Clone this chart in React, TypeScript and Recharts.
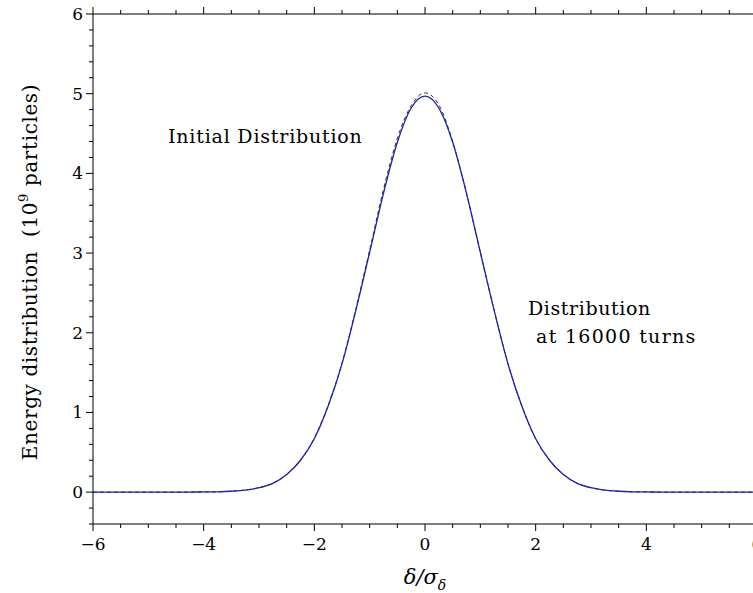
import React from 'react';
import { LineChart, Line, XAxis, YAxis } from 'recharts';

// delta / sigma_delta sample points
const deltas = [
  -6, -5.75, -5.5, -5.25, -5, -4.75, -4.5, -4.25, -4, -3.75, -3.5, -3.25, -3, -2.75, -2.5, -2.25,
  -2, -1.75, -1.5, -1.25, -1, -0.75, -0.5, -0.25, 0, 0.25, 0.5, 0.75, 1, 1.25, 1.5, 1.75,
  2, 2.25, 2.5, 2.75, 3, 3.25, 3.5, 3.75, 4, 4.25, 4.5, 4.75, 5, 5.25, 5.5, 5.75, 6,
];

// initial distribution (solid blue), 10^9 particles
const initialDist = [
  0, 0, 0, 0, 0, 0, 0, 0.001, 0.002, 0.004, 0.011, 0.025, 0.055, 0.11, 0.22, 0.4,
  0.67, 1.08, 1.61, 2.28, 3.01, 3.75, 4.39, 4.82, 4.97, 4.82, 4.39, 3.75, 3.01, 2.28, 1.61, 1.08,
  0.67, 0.4, 0.22, 0.11, 0.055, 0.025, 0.011, 0.004, 0.002, 0.001, 0, 0, 0, 0, 0, 0, 0,
];

// distribution after 16000 turns (dashed black)
const turnsDist = [
  0, 0, 0, 0, 0, 0, 0, 0.001, 0.002, 0.004, 0.011, 0.026, 0.056, 0.11, 0.22, 0.4,
  0.68, 1.09, 1.62, 2.3, 3.04, 3.8, 4.44, 4.85, 5.01, 4.86, 4.4, 3.75, 3.01, 2.28, 1.61, 1.08,
  0.67, 0.4, 0.22, 0.11, 0.055, 0.025, 0.011, 0.004, 0.002, 0.001, 0, 0, 0, 0, 0, 0, 0,
];

const xTicks = [
  -6, -5.5, -5, -4.5, -4, -3.5, -3, -2.5, -2, -1.5, -1, -0.5, 0, 0.5, 1, 1.5,
  2, 2.5, 3, 3.5, 4, 4.5, 5, 5.5, 6,
];
const xLabels = [-6, -4, -2, 0, 2, 4, 6];

const yTicks = [
  -0.4, -0.2, 0, 0.2, 0.4, 0.6, 0.8, 1, 1.2, 1.4, 1.6, 1.8, 2, 2.2, 2.4, 2.6, 2.8, 3,
  3.2, 3.4, 3.6, 3.8, 4, 4.2, 4.4, 4.6, 4.8, 5, 5.2, 5.4, 5.6, 5.8, 6,
];
const yLabels = [0, 1, 2, 3, 4, 5, 6];

const data = deltas.map((d, i) => ({ x: d, init: initialDist[i], turns: turnsDist[i] }));

const FONT = "'DejaVu Serif', serif";
const fmt = (v: number) => (v < 0 ? '\u2212' + Math.abs(v) : String(v));
const isLabel = (list: number[], v: number) => list.some(l => Math.abs(l - v) < 1e-6);

const BottomTick = (props: any) => {
  const { x, y, payload } = props;
  const major = isLabel(xLabels, payload.value);
  return (
    <g>
      <line x1={x} x2={x} y1={y} y2={y + (major ? 7 : 4)} stroke="#000" strokeWidth={1} />
      {major && (
        <text x={x} y={y + 26} textAnchor="middle" style={{ fontFamily: FONT }} fontSize={17} fill="#000">
          {fmt(payload.value)}
        </text>
      )}
    </g>
  );
};

const TopTick = (props: any) => {
  const { x, y, payload } = props;
  const major = isLabel(xLabels, payload.value);
  return <line x1={x} x2={x} y1={y} y2={y - (major ? 7 : 4)} stroke="#000" strokeWidth={1} />;
};

const LeftTick = (props: any) => {
  const { x, y, payload } = props;
  const major = isLabel(yLabels, payload.value);
  return (
    <g>
      <line x1={x} x2={x - (major ? 7 : 4)} y1={y} y2={y} stroke="#000" strokeWidth={1} />
      {major && (
        <text x={x - 10} y={y + 6} textAnchor="end" style={{ fontFamily: FONT }} fontSize={17} fill="#000">
          {fmt(payload.value)}
        </text>
      )}
    </g>
  );
};

const label = { fontFamily: FONT };

export default function App() {
  return (
    <div style={{ position: 'absolute', left: 0, top: 0, width: 753, height: 593, overflow: 'hidden', background: '#fff' }}>
      <LineChart
        width={800}
        height={593}
        data={data}
        margin={{ top: 4, right: 43, bottom: 29, left: 33 }}
      >
        <XAxis
          dataKey="x"
          type="number"
          domain={[-6, 6]}
          ticks={xTicks}
          interval={0}
          tickSize={0}
          tickMargin={0}
          tick={<BottomTick />}
          axisLine={{ stroke: '#000', strokeWidth: 1 }}
          height={40}
          allowDataOverflow
        />
        <XAxis
          xAxisId="top"
          orientation="top"
          dataKey="x"
          type="number"
          domain={[-6, 6]}
          ticks={xTicks}
          interval={0}
          tickSize={0}
          tickMargin={0}
          tick={<TopTick />}
          axisLine={{ stroke: '#000', strokeWidth: 1 }}
          height={10}
          allowDataOverflow
        />
        <YAxis
          type="number"
          domain={[-0.4, 6]}
          ticks={yTicks}
          interval={0}
          tickSize={0}
          tickMargin={0}
          tick={<LeftTick />}
          axisLine={{ stroke: '#000', strokeWidth: 1 }}
          width={60}
          allowDataOverflow
        />
        <Line
          dataKey="turns"
          type="monotone"
          stroke="#333"
          strokeWidth={1}
          strokeDasharray="4 3"
          dot={false}
          isAnimationActive={false}
        />
        <Line
          dataKey="init"
          type="monotone"
          stroke="#1e1eb4"
          strokeWidth={1.3}
          dot={false}
          isAnimationActive={false}
        />
      </LineChart>
      <svg width={753} height={593} style={{ position: 'absolute', left: 0, top: 0, pointerEvents: 'none' }}>
        <text x={168} y={143} style={label} fontSize={19} letterSpacing={0.8} fill="#000">
          Initial Distribution
        </text>
        <text x={528} y={315} style={label} fontSize={19} letterSpacing={0.6} fill="#000">
          Distribution
        </text>
        <text x={536} y={343} style={label} fontSize={19} letterSpacing={1.3} fill="#000">
          at 16000 turns
        </text>
        <text
          x={0}
          y={0}
          transform="translate(37 272) rotate(-90)"
          textAnchor="middle"
          style={label}
          fontSize={20}
          letterSpacing={0.6}
          fill="#000"
        >
          Energy distribution{'\u00a0\u00a0'}(10<tspan dy={-9} fontSize={13}>9</tspan>
          <tspan dy={9}>{'\u00a0'}particles)</tspan>
        </text>
        <text x={425} y={584} textAnchor="middle" style={label} fontSize={21} fontStyle="italic" fill="#000">
          δ/σ<tspan dy={6} fontSize={14}>δ</tspan>
        </text>
      </svg>
    </div>
  );
}
